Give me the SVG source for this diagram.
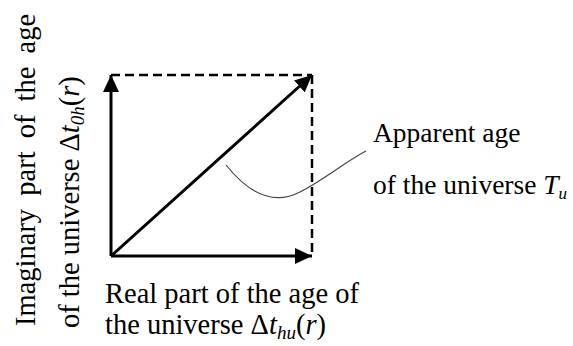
<svg xmlns="http://www.w3.org/2000/svg" width="573" height="346" viewBox="0 0 573 346">
<style>
text{font-family:"Liberation Serif","Times New Roman",serif;font-size:28.5px;fill:#000}
.it{font-style:italic}
.sub{font-size:19px;font-style:italic}
.ax{stroke:#000;stroke-width:3;fill:none}
.dash{stroke:#000;stroke-width:2.5;stroke-dasharray:9,5;fill:none}
#label-apparent text{font-size:27.5px}
#label-apparent .sub{font-size:17px}
</style>
<defs>
<marker id="ah" markerUnits="userSpaceOnUse" markerWidth="18" markerHeight="16" refX="17" refY="8" orient="auto">
<path d="M0,0 L17,8 L0,16 z" fill="#000"/>
</marker>
</defs>
<rect width="573" height="346" fill="#fff"/>
<g id="connectors">
<line class="dash" x1="111" y1="75" x2="312" y2="75"/>
<line class="dash" x1="312" y1="75" x2="312" y2="256"/>
<line class="ax" x1="111" y1="256" x2="111" y2="75" marker-end="url(#ah)"/>
<line class="ax" x1="111" y1="256" x2="312" y2="256" marker-end="url(#ah)"/>
<line class="ax" x1="111" y1="256" x2="312" y2="75" marker-end="url(#ah)"/>
<path d="M226,165 C250,195 275,205 300,192 S345,162 366,151" stroke="#444" stroke-width="1.2" fill="none"/>
</g>
<g id="label-imaginary">
<text transform="translate(35,326) rotate(-90)" word-spacing="6">Imaginary part of the age</text>
<text transform="translate(79,328) rotate(-90)">of the universe Δ<tspan class="it">t</tspan><tspan class="sub" dy="5">0h</tspan><tspan dy="-5">(</tspan><tspan class="it">r</tspan>)</text>
</g>
<g id="label-real">
<text x="105" y="303">Real part of the age of</text>
<text x="105" y="334">the universe Δ<tspan class="it">t</tspan><tspan class="sub" dy="5">hu</tspan><tspan dy="-5">(</tspan><tspan class="it">r</tspan>)</text>
</g>
<g id="label-apparent">
<text x="373" y="142">Apparent age</text>
<text x="373" y="194">of the universe <tspan class="it">T</tspan><tspan class="sub" dy="5">u</tspan></text>
</g>
</svg>
